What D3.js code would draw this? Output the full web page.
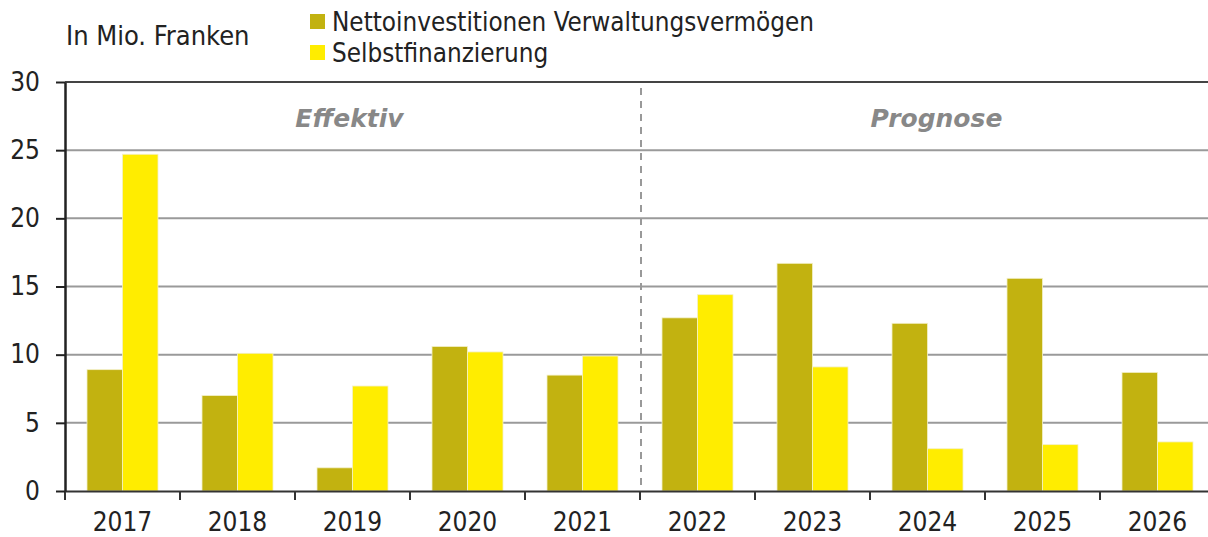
<!DOCTYPE html>
<html>
<head>
<meta charset="utf-8">
<script src="https://cdn.jsdelivr.net/npm/d3@7"></script>
<style>
  body { margin: 0; background: #fff; }
  svg text { font-family: "DejaVu Sans Condensed", "DejaVu Sans", sans-serif; fill: #222; }
</style>
</head>
<body>
<svg id="chart" width="1208" height="537"></svg>
<script>
// data
let years = ["2017", "2018", "2019", "2020", "2021", "2022", "2023", "2024", "2025", "2026"];
let netInvest = [8.9, 7.0, 1.7, 10.6, 8.5, 12.7, 16.7, 12.3, 15.6, 8.7];
let selfFin = [24.7, 10.1, 7.7, 10.2, 9.9, 14.4, 9.1, 3.1, 3.4, 3.6];
let seriesNames = ["Nettoinvestitionen Verwaltungsvermögen", "Selbstfinanzierung"];
let seriesColors = ["#C2B210", "#FFED00"];
let yTicks = [0, 5, 10, 15, 20, 25, 30];
let periods = [
    { label: "Effektiv", from: "2017", to: "2021" },
    { label: "Prognose", from: "2022", to: "2026" }
];

let svg = d3.select("#chart");
let position = { left: 65, top: 82, right: 1215, bottom: 491 };

let x = d3.scaleBand()
            .domain(years)
            .range([position.left, position.right])
            .padding(0);

let xInner = d3.scaleBand()
            .domain([0, 1])
            .range([0, x.bandwidth()])
            .paddingInner(0)
            .paddingOuter(0.62);

let y = d3.scaleLinear()
            .domain([0, 30])
            .range([position.bottom, position.top]);

// grid lines
svg.append("g")
    .selectAll("line")
    .data(yTicks.filter(d => d > 0 && d < 30))
    .enter()
    .append("line")
        .attr("x1", position.left)
        .attr("x2", position.right)
        .attr("y1", d => y(d))
        .attr("y2", d => y(d))
        .style("stroke", "#9a9a9a")
        .style("stroke-width", 2);

// top border line
svg.append("line")
    .attr("x1", position.left).attr("x2", position.right)
    .attr("y1", y(30)).attr("y2", y(30))
    .style("stroke", "#444").style("stroke-width", 2);

// bars
let rows = years.map((yr, i) => [netInvest[i], selfFin[i]].map((v, s) => ({ year: yr, s: s, v: v })));

svg.append("g")
    .selectAll("g")
    .data(rows)
    .enter()
    .append("g")
        .attr("transform", d => "translate(" + x(d[0].year) + ",0)")
    .selectAll("rect")
      .data(d => d)
      .enter()
      .append("rect")
        .attr("x", d => xInner(d.s))
        .attr("y", d => y(d.v))
        .attr("width", xInner.bandwidth())
        .attr("height", d => y(0) - y(d.v))
        .style("fill", d => seriesColors[d.s])
        .style("stroke", "#f3f0c8")
        .style("stroke-width", 0.8);

// dashed separator between effective and forecast
svg.append("line")
    .attr("x1", x("2022") + 1).attr("x2", x("2022") + 1)
    .attr("y1", y(30) + 6).attr("y2", y(0))
    .style("stroke", "#999")
    .style("stroke-width", 2)
    .style("stroke-dasharray", "7,6");

// period labels (the forecast label sits a bit right of centre in the original)
let labelShift = { "Effektiv": -3, "Prognose": 9 };
svg.append("g")
    .selectAll("text")
    .data(periods)
    .enter()
    .append("text")
        .attr("x", d => (x(d.from) + x(d.to) + x.bandwidth()) / 2 + labelShift[d.label])
        .attr("y", 127)
        .attr("text-anchor", "middle")
        .style("font-family", "'DejaVu Sans', sans-serif")
        .style("font-size", "25px")
        .style("font-weight", "bold")
        .style("font-style", "italic")
        .style("fill", "#888")
        .text(d => d.label);

// axes
let xAxis = d3.axisBottom(x).tickSize(9).tickSizeOuter(0).tickFormat("");
let gx = svg.append("g")
    .attr("transform", "translate(0," + y(0) + ")")
    .call(xAxis);
gx.select(".domain").style("stroke", "#333").style("stroke-width", 2);
// ticks at the band borders
gx.selectAll(".tick").remove();
gx.selectAll("line.sep")
    .data(years)
    .enter()
    .append("line")
        .attr("class", "sep")
        .attr("x1", d => x(d)).attr("x2", d => x(d))
        .attr("y1", 0).attr("y2", 9)
        .style("stroke", "#333").style("stroke-width", 2);
gx.selectAll("text.lbl")
    .data(years)
    .enter()
    .append("text")
        .attr("class", "lbl")
        .attr("x", d => x(d) + x.bandwidth() / 2)
        .attr("y", 40)
        .attr("text-anchor", "middle")
        .style("font-size", "26px")
        .text(d => d);

let yAxis = d3.axisLeft(y).tickValues(yTicks).tickSize(9).tickSizeOuter(0).tickPadding(16);
let gy = svg.append("g")
    .attr("transform", "translate(" + position.left + ",0)")
    .call(yAxis);
gy.select(".domain").style("stroke", "#222").style("stroke-width", 2.5);
gy.selectAll(".tick line").style("stroke", "#222").style("stroke-width", 2);
gy.selectAll(".tick text")
    .style("font-family", "'DejaVu Sans Condensed', 'DejaVu Sans', sans-serif")
    .style("font-size", "26px")
    .style("fill", "#222");

// unit label
svg.append("text")
    .attr("x", 66)
    .attr("y", 45)
    .style("font-size", "27px")
    .text("In Mio. Franken");

// legend
let legend = svg.append("g")
    .selectAll("g")
    .data(seriesNames)
    .enter()
    .append("g")
        .attr("transform", (d, i) => "translate(310," + (14 + i * 31) + ")");
legend.append("rect")
    .attr("width", 15).attr("height", 15)
    .style("fill", (d, i) => seriesColors[i]);
legend.append("text")
    .attr("x", 22)
    .attr("y", 17)
    .style("font-size", "25.8px")
    .text(d => d);
</script>
</body>
</html>
